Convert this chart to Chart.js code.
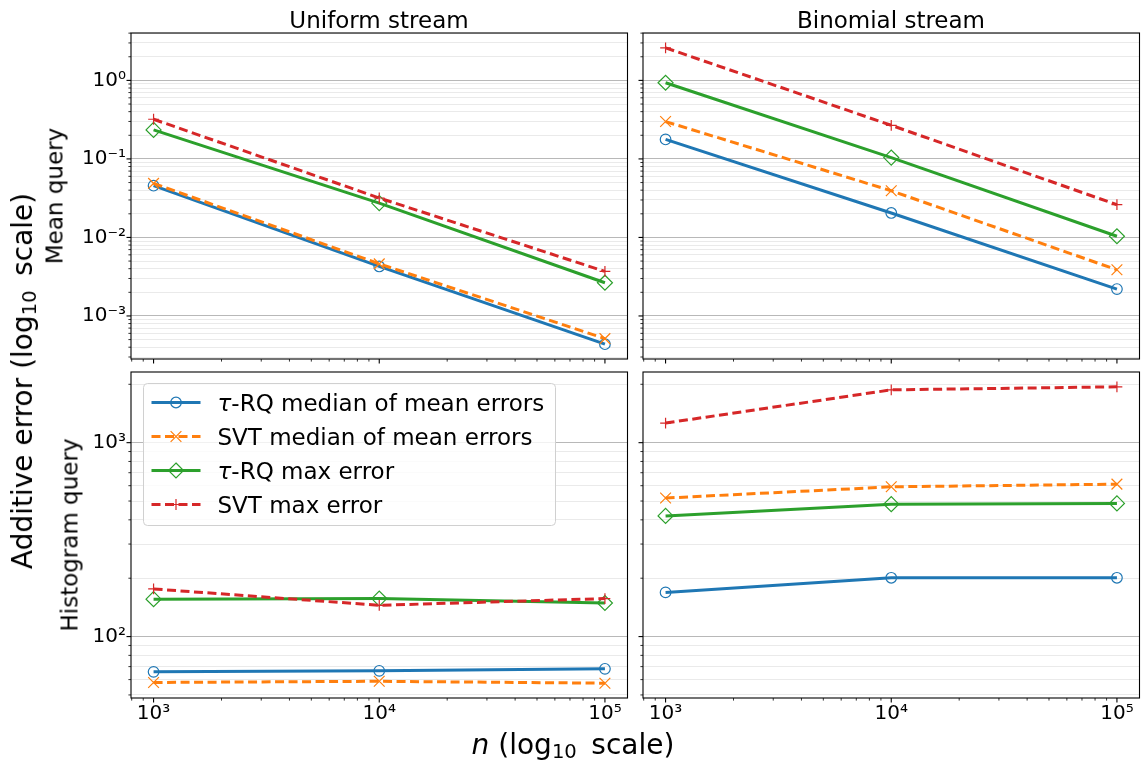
<!DOCTYPE html>
<html>
<head>
<meta charset="utf-8">
<script src="https://cdn.jsdelivr.net/npm/chart.js@4.4.1/dist/chart.umd.min.js"></script>
<style>
  html, body { margin: 0; padding: 0; background: #fff; }
  #fig { position: relative; width: 1146px; height: 761px; overflow: hidden;
         font-family: 'DejaVu Sans', sans-serif; color: #000; }
  #fig canvas { position: absolute; left: 0; top: 0; }
  .lbl { position: absolute; white-space: nowrap; line-height: 1; }
  .ttl { font-size: 23px; transform: translateX(-50%); }
  .rot { transform: translate(-50%, -50%) rotate(-90deg); }
  .s { font-size: 0.7em; position: relative; top: 0.2em; }
</style>
</head>
<body>
<div id="fig">
  <canvas id="c00" width="1146" height="761"></canvas>
  <canvas id="c01" width="1146" height="761"></canvas>
  <canvas id="c10" width="1146" height="761"></canvas>
  <canvas id="c11" width="1146" height="761"></canvas>

  <div class="lbl ttl" style="left:379px; top:8.5px;">Uniform stream</div>
  <div class="lbl ttl" style="left:891px; top:8.5px;">Binomial stream</div>
  <div class="lbl rot" style="left:55px; top:196px; font-size:23px;">Mean query</div>
  <div class="lbl rot" style="left:70px; top:535px; font-size:23px;">Histogram query</div>
  <div class="lbl rot" style="left:23px; top:381px; font-size:28px;">Additive error (log<span class="s">10</span>&thinsp; scale)</div>
  <div class="lbl" style="left:573px; top:731px; font-size:28px; transform:translateX(-50%);"><i>n</i> (log<span class="s">10</span>&thinsp; scale)</div>
</div>
<script>
// x values: stream length n
const nValues = [1e3, 1e4, 1e5];
const seriesLabels = ['τ-RQ median of mean errors', 'SVT median of mean errors', 'τ-RQ max error', 'SVT max error'];

// uniform stream, mean query
const uniMeanRqMedian = [0.0456, 0.00427, 0.000437];
const uniMeanSvtMedian = [0.0488, 0.00461, 0.000515];
const uniMeanRqMax = [0.234, 0.0274, 0.00265];
const uniMeanSvtMax = [0.32, 0.0318, 0.00369];
// binomial stream, mean query
const binMeanRqMedian = [0.177, 0.0205, 0.0022];
const binMeanSvtMedian = [0.299, 0.0393, 0.00387];
const binMeanRqMax = [0.934, 0.104, 0.01035];
const binMeanSvtMax = [2.6, 0.268, 0.0261];
// uniform stream, histogram query
const uniHistRqMedian = [65.8, 66.6, 68.2];
const uniHistSvtMedian = [58.0, 58.8, 57.5];
const uniHistRqMax = [156, 157, 149];
const uniHistSvtMax = [176, 145, 157];
// binomial stream, histogram query
const binHistRqMedian = [169, 201, 201];
const binHistSvtMedian = [518, 592, 611];
const binHistRqMax = [419, 482, 486];
const binHistSvtMax = [1262, 1872, 1941];

// tick labels
const nTickValues = [1e3, 1e4, 1e5];
const nTickLabels = ['10³', '10⁴', '10⁵'];
const meanTickValues = [1e-3, 1e-2, 1e-1, 1];
const meanTickLabels = ['10⁻³', '10⁻²', '10⁻¹', '10⁰'];
const histTickValues = [1e2, 1e3];
const histTickLabels = ['10²', '10³'];

const styles = [
  { color: '#1f77b4', dash: [], point: 'circle', radius: 5.3 },
  { color: '#ff7f0e', dash: [9, 4.5], point: 'crossRot', radius: 7.6 },
  { color: '#2ca02c', dash: [], point: 'rectRot', radius: 7.5 },
  { color: '#d62728', dash: [9, 4.5], point: 'cross', radius: 5.4 }
];

const W = 1146, H = 761;
const Y_W = 70, X_H = 40;
const cols = [{ left: 131, right: 627.5 }, { left: 643, right: 1139.5 }];
const rows = [{ top: 33, bottom: 359 }, { top: 372, bottom: 698 }];

function logRange(arrays) {
  const logs = arrays.flat().map(Math.log10);
  const lo = Math.min(...logs), hi = Math.max(...logs), pad = 0.05 * (hi - lo);
  return [Math.pow(10, lo - pad), Math.pow(10, hi + pad)];
}
function isPow10(v) {
  const l = Math.log10(v);
  return Math.abs(l - Math.round(l)) < 1e-6;
}
function logTicks(min, max) {
  const out = [];
  for (let e = Math.floor(Math.log10(min)); e <= Math.ceil(Math.log10(max)); e++) {
    for (let m = 1; m <= 9; m++) {
      const v = m * Math.pow(10, e);
      if (v > min * 1.000001 && v < max / 1.000001) out.push({ value: v });
    }
  }
  return out;
}
function labelFor(values, labels) {
  return (v) => {
    const i = values.findIndex(t => Math.abs(Math.log10(v) - Math.log10(t)) < 1e-6);
    return i >= 0 ? labels[i] : '';
  };
}

const meanSeries = [uniMeanRqMedian, uniMeanSvtMedian, uniMeanRqMax, uniMeanSvtMax,
                    binMeanRqMedian, binMeanSvtMedian, binMeanRqMax, binMeanSvtMax];
const histSeries = [uniHistRqMedian, uniHistSvtMedian, uniHistRqMax, uniHistSvtMax,
                    binHistRqMedian, binHistSvtMedian, binHistRqMax, binHistSvtMax];
const xRange = logRange([nValues]);
const meanRange = logRange(meanSeries);
const histRange = logRange(histSeries);

function makeDatasets(series) {
  return series.map((vals, i) => ({
    label: seriesLabels[i],
    data: nValues.map((n, k) => ({ x: n, y: vals[k] })),
    borderColor: styles[i].color,
    borderWidth: 3,
    borderDash: styles[i].dash,
    pointStyle: styles[i].point,
    pointRadius: styles[i].radius,
    pointBorderWidth: 1.2,
    pointBorderColor: styles[i].color,
    pointBackgroundColor: 'rgba(0,0,0,0)',
    tension: 0,
    fill: false,
    order: 3 - i
  }));
}

function drawMarker(ctx, st, x, y) {
  const r = st.radius;
  ctx.beginPath();
  if (st.point === 'circle') {
    ctx.arc(x, y, r, 0, Math.PI * 2);
  } else if (st.point === 'crossRot') {
    const d = r * Math.SQRT1_2;
    ctx.moveTo(x - d, y - d); ctx.lineTo(x + d, y + d);
    ctx.moveTo(x - d, y + d); ctx.lineTo(x + d, y - d);
  } else if (st.point === 'rectRot') {
    ctx.moveTo(x, y - r); ctx.lineTo(x + r, y); ctx.lineTo(x, y + r); ctx.lineTo(x - r, y);
    ctx.closePath();
  } else {
    ctx.moveTo(x - r, y); ctx.lineTo(x + r, y);
    ctx.moveTo(x, y - r); ctx.lineTo(x, y + r);
  }
  ctx.stroke();
}

// tick marks + axes frame, like matplotlib spines
const framePlugin = {
  id: 'frame',
  afterDatasetsDraw(chart) {
    const { ctx, chartArea: a, scales } = chart;
    ctx.save();
    ctx.strokeStyle = '#000';
    scales.x.ticks.forEach(t => {
      const px = scales.x.getPixelForValue(t.value);
      const major = isPow10(t.value);
      ctx.lineWidth = major ? 1.1 : 0.8;
      ctx.beginPath();
      ctx.moveTo(px, a.bottom);
      ctx.lineTo(px, a.bottom + (major ? 4.5 : 2.6));
      ctx.stroke();
    });
    scales.y.ticks.forEach(t => {
      const py = scales.y.getPixelForValue(t.value);
      const major = isPow10(t.value);
      ctx.lineWidth = major ? 1.1 : 0.8;
      ctx.beginPath();
      ctx.moveTo(a.left, py);
      ctx.lineTo(a.left - (major ? 4.5 : 2.6), py);
      ctx.stroke();
    });
    ctx.lineWidth = 1.1;
    ctx.strokeRect(a.left, a.top, a.right - a.left, a.bottom - a.top);
    ctx.restore();
  }
};

// legend box in upper-left corner
const legendPlugin = {
  id: 'boxLegend',
  afterDraw(chart, args, opts) {
    if (!opts.show) return;
    const ctx = chart.ctx;
    const a = chart.chartArea;
    const bx = a.left + 12.5, by = a.top + 11.5, bw = 412, bh = 142;
    ctx.save();
    ctx.beginPath();
    ctx.roundRect(bx, by, bw, bh, 4);
    ctx.fillStyle = 'rgba(255,255,255,0.8)';
    ctx.fill();
    ctx.strokeStyle = '#d0d0d0';
    ctx.lineWidth = 1;
    ctx.stroke();
    chart.data.datasets.forEach((ds, i) => {
      const st = styles[i];
      const y = by + 19 + 34 * i;
      ctx.strokeStyle = st.color;
      ctx.lineWidth = 3;
      ctx.setLineDash(st.dash);
      ctx.beginPath();
      ctx.moveTo(bx + 8, y);
      ctx.lineTo(bx + 57, y);
      ctx.stroke();
      ctx.setLineDash([]);
      ctx.lineWidth = 1.2;
      drawMarker(ctx, st, bx + 32.5, y);
      ctx.fillStyle = '#000';
      ctx.textBaseline = 'alphabetic';
      let tx = bx + 74;
      let text = ds.label;
      if (text.startsWith('τ')) {
        ctx.font = 'italic 23px "DejaVu Sans"';
        ctx.fillText('τ', tx, y + 8.5);
        tx += ctx.measureText('τ').width;
        text = text.slice(1);
      }
      ctx.font = '23px "DejaVu Sans"';
      ctx.fillText(text, tx, y + 8.5);
    });
    ctx.restore();
  }
};

const panels = [
  { id: 'c00', col: 0, row: 0, series: [uniMeanRqMedian, uniMeanSvtMedian, uniMeanRqMax, uniMeanSvtMax],
    yRange: meanRange, yVals: meanTickValues, yLabs: meanTickLabels, showX: false, showY: true, legend: false },
  { id: 'c01', col: 1, row: 0, series: [binMeanRqMedian, binMeanSvtMedian, binMeanRqMax, binMeanSvtMax],
    yRange: meanRange, yVals: meanTickValues, yLabs: meanTickLabels, showX: false, showY: false, legend: false },
  { id: 'c10', col: 0, row: 1, series: [uniHistRqMedian, uniHistSvtMedian, uniHistRqMax, uniHistSvtMax],
    yRange: histRange, yVals: histTickValues, yLabs: histTickLabels, showX: true, showY: true, legend: true },
  { id: 'c11', col: 1, row: 1, series: [binHistRqMedian, binHistSvtMedian, binHistRqMax, binHistSvtMax],
    yRange: histRange, yVals: histTickValues, yLabs: histTickLabels, showX: true, showY: false, legend: false }
];

const tickFont = { family: 'DejaVu Sans', size: 20 };

panels.forEach(p => {
  const c = cols[p.col], r = rows[p.row];
  new Chart(document.getElementById(p.id), {
    type: 'line',
    data: { datasets: makeDatasets(p.series) },
    options: {
      responsive: false,
      animation: false,
      devicePixelRatio: 1,
      events: [],
      layout: {
        autoPadding: false,
        padding: { left: c.left - Y_W, top: r.top, right: W - c.right, bottom: H - r.bottom - X_H }
      },
      plugins: {
        legend: { display: false },
        tooltip: { enabled: false },
        boxLegend: { show: p.legend }
      },
      scales: {
        x: {
          type: 'logarithmic',
          min: xRange[0], max: xRange[1], bounds: 'data',
          afterBuildTicks: s => { s.ticks = logTicks(s.min, s.max); },
          afterFit: s => { s.height = X_H; },
          grid: { drawOnChartArea: false, drawTicks: false },
          border: { display: false },
          ticks: {
            autoSkip: false, maxRotation: 0, minRotation: 0, padding: 4, color: '#000', font: tickFont,
            callback: p.showX ? labelFor(nTickValues, nTickLabels) : () => ''
          }
        },
        y: {
          type: 'logarithmic',
          min: p.yRange[0], max: p.yRange[1], bounds: 'data',
          afterBuildTicks: s => { s.ticks = logTicks(s.min, s.max); },
          afterFit: s => { s.width = Y_W; },
          grid: {
            drawTicks: false,
            color: ctx => (ctx.tick && isPow10(ctx.tick.value)) ? '#b8b8b8' : '#e8e8e8',
            lineWidth: ctx => (ctx.tick && isPow10(ctx.tick.value)) ? 1 : 0.9
          },
          border: { display: false },
          ticks: {
            autoSkip: false, padding: 5, color: '#000', font: tickFont,
            callback: p.showY ? labelFor(p.yVals, p.yLabs) : () => ''
          }
        }
      }
    },
    plugins: [framePlugin, legendPlugin]
  });
});
</script>
</body>
</html>
